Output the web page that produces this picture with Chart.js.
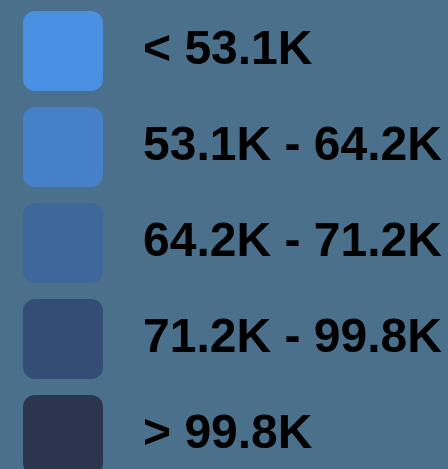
<!DOCTYPE html>
<html>
<head>
<meta charset="utf-8">
<script src="https://cdn.jsdelivr.net/npm/chart.js@4/dist/chart.umd.min.js"></script>
<style>
  html, body { margin: 0; padding: 0; width: 448px; height: 469px; overflow: hidden; background: #4A708B; }
  #wrap { position: absolute; left: 0; top: -5px; width: 448px; height: 540px; }
</style>
</head>
<body>
<div id="wrap"><canvas id="c" width="448" height="540"></canvas></div>
<script>
// Legend classes (value bins) and their swatch colours
const binLabels = ['< 53.1K', '53.1K - 64.2K', '64.2K - 71.2K', '71.2K - 99.8K', '> 99.8K'];
const binColors = ['#4A90E2', '#4580C8', '#3E679C', '#334D75', '#2B364D'];

const ctx = document.getElementById('c').getContext('2d');
new Chart(ctx, {
  type: 'bar',
  data: {
    labels: [],
    datasets: binLabels.map((l, i) => ({ label: l, data: [], backgroundColor: binColors[i] }))
  },
  options: {
    responsive: false,
    animation: false,
    events: [],
    layout: { padding: { left: 7, top: 0, right: 0, bottom: 0 } },
    scales: { x: { display: false }, y: { display: false } },
    plugins: {
      tooltip: { enabled: false },
      legend: {
        display: true,
        position: 'top',
        align: 'start',
        maxHeight: 800,
        labels: {
          boxWidth: 80,
          boxHeight: 80,
          padding: 16,
          color: '#000000',
          font: { family: '"Liberation Sans", Arial, sans-serif', size: 48, weight: 'bold' },
          generateLabels: (chart) => binLabels.map((l, i) => ({
            text: '\u2004' + l,
            fillStyle: binColors[i],
            strokeStyle: binColors[i],
            lineWidth: 0,
            borderRadius: 12,
            hidden: false,
            datasetIndex: i
          }))
        }
      }
    }
  }
});
</script>
</body>
</html>
